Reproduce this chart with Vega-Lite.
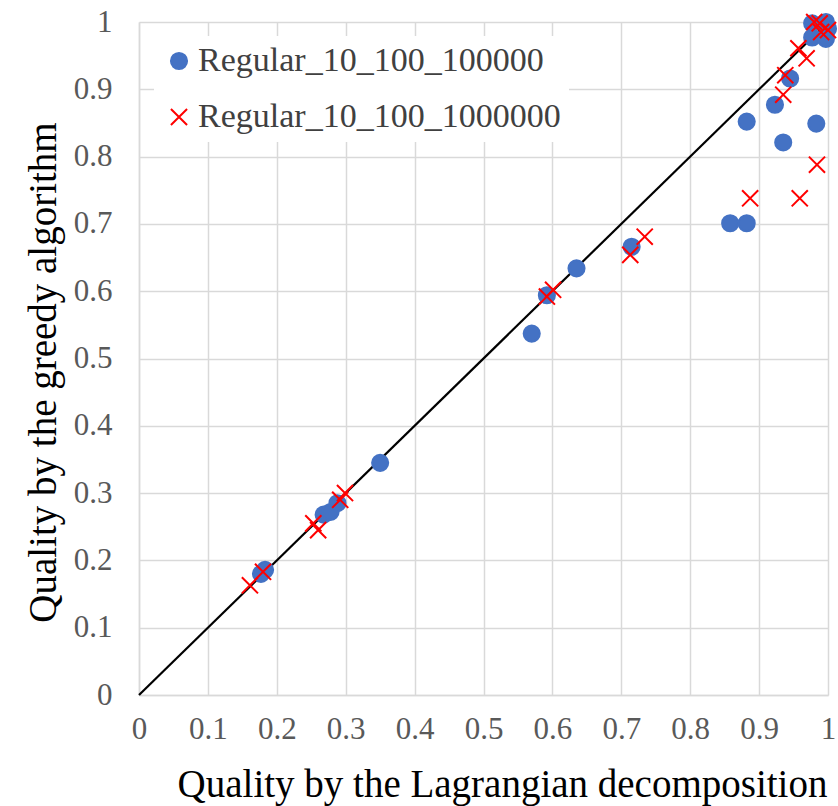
{
  "$schema": "https://vega.github.io/schema/vega-lite/v6.json",
  "width": 689,
  "height": 673,
  "autosize": {"type": "none"},
  "padding": {"left": 139, "top": 22, "right": 10, "bottom": 111},
  "background": "white",
  "config": {
    "view": {"stroke": null},
    "axis": {
      "labelFont": "Liberation Serif",
      "titleFont": "Liberation Serif",
      "labelColor": "#595959",
      "titleColor": "#000000",
      "titleFontWeight": "normal",
      "gridColor": "#D9D9D9",
      "gridWidth": 1.5,
      "domainColor": "#D9D9D9",
      "domainWidth": 1.5,
      "ticks": false,
      "labelFontSize": 31,
      "titleFontSize": 39
    },
    "legend": {
      "title": null,
      "orient": "none",
      "legendX": 15,
      "legendY": 14,
      "fillColor": "white",
      "padding": 8,
      "labelFont": "Liberation Serif",
      "labelFontSize": 34,
      "labelColor": "#404040",
      "labelLimit": 0,
      "labelOffset": 2,
      "rowPadding": 22,
      "symbolSize": 260,
      "symbolStrokeWidth": 2
    }
  },
  "datasets": {
    "pts": [
      {"lag": 0.177, "greedy": 0.180, "series": "Regular_10_100_100000"},
      {"lag": 0.183, "greedy": 0.186, "series": "Regular_10_100_100000"},
      {"lag": 0.268, "greedy": 0.268, "series": "Regular_10_100_100000"},
      {"lag": 0.278, "greedy": 0.272, "series": "Regular_10_100_100000"},
      {"lag": 0.288, "greedy": 0.285, "series": "Regular_10_100_100000"},
      {"lag": 0.350, "greedy": 0.345, "series": "Regular_10_100_100000"},
      {"lag": 0.570, "greedy": 0.537, "series": "Regular_10_100_100000"},
      {"lag": 0.592, "greedy": 0.594, "series": "Regular_10_100_100000"},
      {"lag": 0.635, "greedy": 0.634, "series": "Regular_10_100_100000"},
      {"lag": 0.715, "greedy": 0.666, "series": "Regular_10_100_100000"},
      {"lag": 0.858, "greedy": 0.701, "series": "Regular_10_100_100000"},
      {"lag": 0.882, "greedy": 0.701, "series": "Regular_10_100_100000"},
      {"lag": 0.882, "greedy": 0.852, "series": "Regular_10_100_100000"},
      {"lag": 0.923, "greedy": 0.877, "series": "Regular_10_100_100000"},
      {"lag": 0.935, "greedy": 0.821, "series": "Regular_10_100_100000"},
      {"lag": 0.945, "greedy": 0.916, "series": "Regular_10_100_100000"},
      {"lag": 0.983, "greedy": 0.849, "series": "Regular_10_100_100000"},
      {"lag": 0.977, "greedy": 0.998, "series": "Regular_10_100_100000"},
      {"lag": 0.997, "greedy": 1.0, "series": "Regular_10_100_100000"},
      {"lag": 0.977, "greedy": 0.977, "series": "Regular_10_100_100000"},
      {"lag": 0.997, "greedy": 0.975, "series": "Regular_10_100_100000"},
      {"lag": 1.0, "greedy": 0.99, "series": "Regular_10_100_100000"},
      {"lag": 0.161, "greedy": 0.163, "series": "Regular_10_100_1000000"},
      {"lag": 0.180, "greedy": 0.183, "series": "Regular_10_100_1000000"},
      {"lag": 0.253, "greedy": 0.255, "series": "Regular_10_100_1000000"},
      {"lag": 0.260, "greedy": 0.245, "series": "Regular_10_100_1000000"},
      {"lag": 0.292, "greedy": 0.290, "series": "Regular_10_100_1000000"},
      {"lag": 0.299, "greedy": 0.300, "series": "Regular_10_100_1000000"},
      {"lag": 0.592, "greedy": 0.592, "series": "Regular_10_100_1000000"},
      {"lag": 0.601, "greedy": 0.602, "series": "Regular_10_100_1000000"},
      {"lag": 0.713, "greedy": 0.654, "series": "Regular_10_100_1000000"},
      {"lag": 0.734, "greedy": 0.681, "series": "Regular_10_100_1000000"},
      {"lag": 0.887, "greedy": 0.738, "series": "Regular_10_100_1000000"},
      {"lag": 0.959, "greedy": 0.738, "series": "Regular_10_100_1000000"},
      {"lag": 0.984, "greedy": 0.788, "series": "Regular_10_100_1000000"},
      {"lag": 0.935, "greedy": 0.892, "series": "Regular_10_100_1000000"},
      {"lag": 0.938, "greedy": 0.921, "series": "Regular_10_100_1000000"},
      {"lag": 0.957, "greedy": 0.961, "series": "Regular_10_100_1000000"},
      {"lag": 0.969, "greedy": 0.946, "series": "Regular_10_100_1000000"},
      {"lag": 0.988, "greedy": 0.998, "series": "Regular_10_100_1000000"},
      {"lag": 1.0, "greedy": 0.988, "series": "Regular_10_100_1000000"},
      {"lag": 0.99, "greedy": 0.985, "series": "Regular_10_100_1000000"},
      {"lag": 0.98, "greedy": 1.0, "series": "Regular_10_100_1000000"}
    ],
    "diag": [
      {"lag": 0, "greedy": 0},
      {"lag": 1, "greedy": 1}
    ]
  },
  "layer": [
    {
      "data": {"name": "diag"},
      "mark": {"type": "line", "color": "#000000", "strokeWidth": 2.2},
      "encoding": {
        "x": {
          "field": "lag", "type": "quantitative",
          "scale": {"domain": [0, 1], "nice": false},
          "axis": {
            "title": "Quality by the Lagrangian decomposition",
            "values": [0, 0.1, 0.2, 0.3, 0.4, 0.5, 0.6, 0.7, 0.8, 0.9, 1],
            "labelExpr": "datum.value == 0 ? '0' : datum.value == 1 ? '1' : format(datum.value, '.1f')",
            "labelPadding": 19,
            "labelFlush": false,
            "titleBaseline": "alphabetic",
            "titleY": 101,
            "titleX": 363
          }
        },
        "y": {
          "field": "greedy", "type": "quantitative",
          "scale": {"domain": [0, 1], "nice": false},
          "axis": {
            "title": "Quality by the greedy algorithm",
            "values": [0, 0.1, 0.2, 0.3, 0.4, 0.5, 0.6, 0.7, 0.8, 0.9, 1],
            "labelExpr": "datum.value == 0 ? '0' : datum.value == 1 ? '1' : format(datum.value, '.1f')",
            "labelPadding": 27,
            "labelFlush": false,
            "titleAngle": -90,
            "titleBaseline": "alphabetic",
            "titleAlign": "center",
            "titleX": -84,
            "titleY": 350
          }
        }
      }
    },
    {
      "data": {"name": "pts"},
      "mark": {"type": "point", "strokeWidth": 2, "size": 260, "opacity": 1},
      "encoding": {
        "x": {"field": "lag", "type": "quantitative"},
        "y": {"field": "greedy", "type": "quantitative"},
        "shape": {
          "field": "series", "type": "nominal",
          "scale": {"domain": ["Regular_10_100_100000", "Regular_10_100_1000000"], "range": ["circle", "M-1,-1L1,1M1,-1L-1,1"]}
        },
        "fill": {
          "field": "series", "type": "nominal",
          "scale": {"domain": ["Regular_10_100_100000", "Regular_10_100_1000000"], "range": ["#4472C4", "transparent"]}
        },
        "stroke": {
          "field": "series", "type": "nominal",
          "scale": {"domain": ["Regular_10_100_100000", "Regular_10_100_1000000"], "range": ["#4472C4", "#FF0000"]}
        }
      }
    }
  ]
}
